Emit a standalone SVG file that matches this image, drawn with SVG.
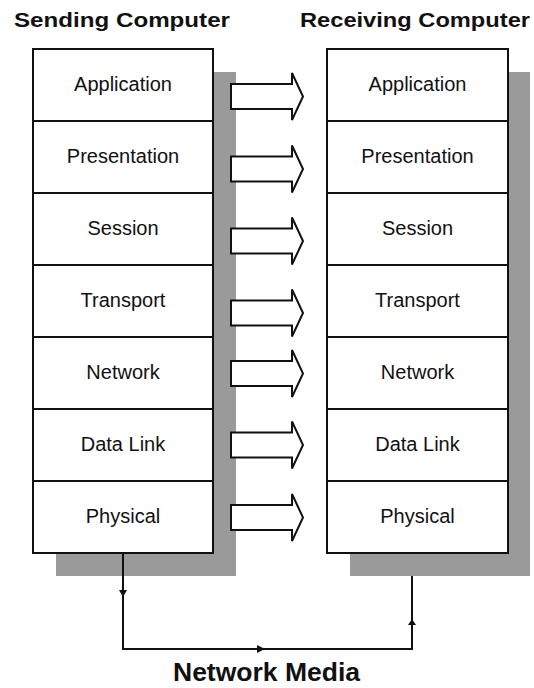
<svg xmlns="http://www.w3.org/2000/svg" width="534" height="688" viewBox="0 0 534 688">
  <style>
    .title { font-family: "Liberation Sans", Arial, sans-serif; font-weight: bold; fill: #111; }
    .label { font-family: "Liberation Sans", Arial, sans-serif; font-size: 20px; fill: #111; text-anchor: middle; }
    .shadow { fill: #9a9a9a; }
    .box { fill: #fff; stroke: #111; stroke-width: 2; }
    .divider { stroke: #111; stroke-width: 2; }
    .arrow { fill: #fff; stroke: #111; stroke-width: 2; stroke-linejoin: miter; }
    .wire { fill: none; stroke: #111; stroke-width: 2; }
    .tick { fill: #111; }
  </style>
  <defs>
    <!-- hollow block arrow centred on y=0 -->
    <polygon id="blockArrow" class="arrow" points="231,-12.5 292,-12.5 292,-23.5 303,0 292,23.5 292,12.5 231,12.5"/>
  </defs>

  <rect width="534" height="688" fill="#fff"/>

  <!-- headings -->
  <text class="title" x="14" y="27" font-size="21" textLength="216" lengthAdjust="spacingAndGlyphs">Sending Computer</text>
  <text class="title" x="300" y="27" font-size="21" textLength="230" lengthAdjust="spacingAndGlyphs">Receiving Computer</text>

  <!-- sending stack -->
  <g id="sending-stack">
    <rect class="shadow" x="56" y="72" width="180" height="504"/>
    <rect class="box" x="33" y="49" width="180" height="504"/>
    <g id="send-application"><text class="label" x="123" y="91">Application</text></g>
    <line class="divider" x1="33" y1="121" x2="213" y2="121"/>
    <g id="send-presentation"><text class="label" x="123" y="163">Presentation</text></g>
    <line class="divider" x1="33" y1="193" x2="213" y2="193"/>
    <g id="send-session"><text class="label" x="123" y="235">Session</text></g>
    <line class="divider" x1="33" y1="265" x2="213" y2="265"/>
    <g id="send-transport"><text class="label" x="123" y="307">Transport</text></g>
    <line class="divider" x1="33" y1="337" x2="213" y2="337"/>
    <g id="send-network"><text class="label" x="123" y="379">Network</text></g>
    <line class="divider" x1="33" y1="409" x2="213" y2="409"/>
    <g id="send-datalink"><text class="label" x="123" y="451">Data Link</text></g>
    <line class="divider" x1="33" y1="481" x2="213" y2="481"/>
    <g id="send-physical"><text class="label" x="123" y="523">Physical</text></g>
  </g>

  <!-- receiving stack -->
  <g id="receiving-stack">
    <rect class="shadow" x="350" y="72" width="180" height="504"/>
    <rect class="box" x="327" y="49" width="181" height="504"/>
    <g id="recv-application"><text class="label" x="417.5" y="91">Application</text></g>
    <line class="divider" x1="327" y1="121" x2="508" y2="121"/>
    <g id="recv-presentation"><text class="label" x="417.5" y="163">Presentation</text></g>
    <line class="divider" x1="327" y1="193" x2="508" y2="193"/>
    <g id="recv-session"><text class="label" x="417.5" y="235">Session</text></g>
    <line class="divider" x1="327" y1="265" x2="508" y2="265"/>
    <g id="recv-transport"><text class="label" x="417.5" y="307">Transport</text></g>
    <line class="divider" x1="327" y1="337" x2="508" y2="337"/>
    <g id="recv-network"><text class="label" x="417.5" y="379">Network</text></g>
    <line class="divider" x1="327" y1="409" x2="508" y2="409"/>
    <g id="recv-datalink"><text class="label" x="417.5" y="451">Data Link</text></g>
    <line class="divider" x1="327" y1="481" x2="508" y2="481"/>
    <g id="recv-physical"><text class="label" x="417.5" y="523">Physical</text></g>
  </g>

  <!-- peer arrows and the media wire -->
  <g id="connectors">
    <use href="#blockArrow" y="96.5"/>
    <use href="#blockArrow" y="169"/>
    <use href="#blockArrow" y="241"/>
    <use href="#blockArrow" y="313"/>
    <use href="#blockArrow" y="373.5"/>
    <use href="#blockArrow" y="445"/>
    <use href="#blockArrow" y="517.5"/>

    <polyline class="wire" points="123,553 123,649 412,649 412,576"/>
    <polygon class="tick" points="119,590 127,590 123,597"/>
    <polygon class="tick" points="257,645 265,649 257,653"/>
    <polygon class="tick" points="408,625 416,625 412,619"/>
  </g>

  <g id="network-media">
    <text class="title" x="173" y="681" font-size="26" textLength="187" lengthAdjust="spacingAndGlyphs">Network Media</text>
  </g>
</svg>
